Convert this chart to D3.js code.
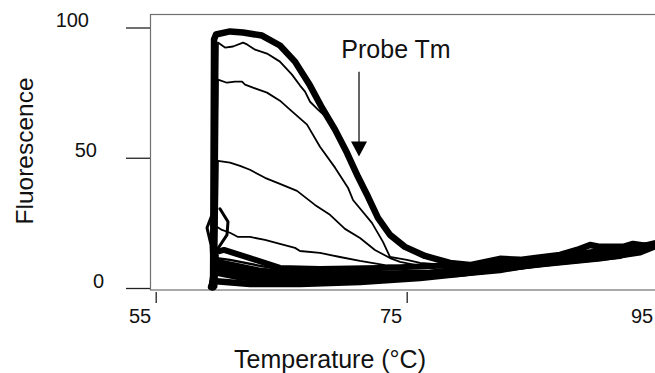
<!DOCTYPE html>
<html>
<head>
<meta charset="utf-8">
<script src="https://cdn.jsdelivr.net/npm/d3@7.9.0/dist/d3.min.js"></script>
<style>
  body { margin: 0; background: #fff; }
  svg { display: block; font-family: "Liberation Sans", Arial, sans-serif; }
</style>
</head>
<body>
<svg width="655" height="373"></svg>
<script>
// axis ticks
const xTicks = [55, 75, 95];
const yTicks = [0, 50, 100];

// melting curves [temperature, fluorescence]
const curveA = [[59.57,0.8],[59.65,95.4],[59.80,97.3],[60.92,98.5],[61.96,98.1],[63.47,96.9],[64.90,93.1],[66.10,86.9],[67.30,77.7],[68.25,69.2],[69.29,60.8],[70.24,51.9],[71.12,42.7],[71.92,35.0],[72.71,26.9],[73.67,20.4],[74.86,15.8],[76.46,12.3],[78.45,9.6],[80.04,8.8],[82.43,11.2],[84.03,10.8],[87.22,12.7],[88.57,14.6],[89.61,16.5],[90.41,15.8],[92.24,15.8],[93.04,16.9],[93.99,16.2],[94.95,16.5]];
const curveB = [[59.73,0.4],[59.96,94.2],[60.52,92.3],[61.16,92.7],[61.96,94.2],[62.28,93.5],[62.92,91.5],[63.87,90.0],[64.90,86.9],[65.86,81.9],[66.50,77.7],[66.90,75.4],[67.30,71.5],[67.93,68.5],[68.49,66.0],[69.29,60.3],[70.24,51.4],[71.12,42.2],[71.92,34.5],[72.71,26.4],[73.67,20.0],[74.86,15.5],[76.46,12.0],[78.45,9.4]];
const curveC = [[59.80,0.4],[59.96,80.0],[60.68,78.8],[61.32,79.2],[61.88,79.2],[62.12,78.1],[62.75,76.9],[63.87,75.0],[64.90,71.9],[65.70,68.5],[67.06,62.7],[68.09,54.2],[69.29,46.2],[70.32,38.5],[70.72,33.8],[72.23,25.0],[73.11,17.7],[73.67,11.9],[74.23,11.5],[75.02,10.8],[76.06,9.6],[78.45,8.8]];
const curveD = [[59.80,0.4],[59.96,48.8],[60.92,48.1],[61.72,46.9],[62.51,45.4],[63.71,42.3],[64.90,40.0],[66.26,37.3],[67.69,31.9],[68.89,28.1],[70.08,22.7],[71.28,19.2],[72.47,14.6],[73.67,11.5],[74.47,10.0],[76.06,8.5],[78.45,8.1]];
const curveE = [[59.65,0.4],[59.65,24.2],[60.28,22.3],[60.92,21.2],[61.56,19.6],[62.51,19.6],[63.71,18.5],[64.90,16.9],[66.10,15.4],[66.50,14.2],[68.09,13.5],[69.68,11.9],[71.28,10.4],[73.27,8.8],[76.06,8.1]];
const curveF = [[59.65,0.8],[59.80,13.8],[60.44,14.6],[62.51,11.5],[64.90,7.7],[68.09,7.3],[72.87,7.7],[77.65,8.5],[80.84,8.5],[85.62,11.2],[90.41,14.2],[94.95,16.9]];
const curveG = [[59.57,0.4],[59.73,10.0],[61.32,8.5],[63.31,6.5],[64.90,5.8],[68.89,5.4],[72.87,5.4],[76.85,5.8],[78.45,6.5],[82.43,8.5],[87.22,11.5],[92.00,13.5],[93.59,15.0],[94.95,16.9]];
const curveM = [[59.49,0.4],[59.65,7.7],[61.72,6.2],[64.90,4.2],[68.89,3.8],[72.87,4.2],[76.06,4.6],[79.25,5.4],[82.43,7.3],[87.22,10.0],[92.00,12.3],[94.95,16.5]];
const curveH = [[59.49,0.4],[59.65,6.2],[61.72,4.2],[64.90,3.1],[68.89,2.7],[72.87,3.5],[76.85,5.0],[80.84,6.5],[85.62,9.2],[90.41,11.5],[93.59,13.8],[94.95,16.5]];
const curveI = [[59.41,0.4],[59.57,2.7],[62.51,1.5],[66.50,1.5],[71.28,2.3],[76.06,3.8],[80.04,5.8],[82.43,6.9],[87.22,10.8],[92.00,12.7],[93.59,15.8],[94.95,17.3]];
const curveJ = [[59.57,0.8],[59.73,11.5],[60.92,10.8],[63.31,8.5],[65.70,6.5],[68.89,5.8]];
const curveK = [[59.57,0.4],[59.41,16.5],[59.09,23.1],[59.49,28.1],[59.80,31.9]];
const curveL = [[59.80,0.4],[59.88,14.6],[60.68,20.4],[60.76,25.4],[60.12,30.4]];

// annotation
const probeLabel = "Probe Tm";
const probeTm = 71.2;
const arrowFrom = 83;
const arrowTo = 50.5;

const svg = d3.select("svg");

const x = d3.scaleLinear().domain([55, 95]).range([155.7, 657.7]);
const y = d3.scaleLinear().domain([0, 100]).range([288, 27.5]);

// frame
svg.append("rect")
    .attr("x", 150.5).attr("y", 14.5)
    .attr("width", 520).attr("height", 275.5)
    .attr("fill", "none")
    .attr("stroke", "#707070")
    .attr("stroke-width", 1.2);

const line = d3.line().x(d => x(d[0])).y(d => y(d[1]));

const curves = [
    {data: curveI, w: 6.5},
    {data: curveH, w: 7},
    {data: curveM, w: 6},
    {data: curveG, w: 7},
    {data: curveJ, w: 2.5},
    {data: curveF, w: 6},
    {data: curveK, w: 3},
    {data: curveL, w: 3},
    {data: curveE, w: 1.8},
    {data: curveD, w: 1.8},
    {data: curveC, w: 1.8},
    {data: curveB, w: 1.8},
    {data: curveA, w: 6.5}
];

svg.append("g").selectAll("path")
    .data(curves)
    .join("path")
    .attr("d", d => line(d.data))
    .attr("fill", "none")
    .attr("stroke", "#000")
    .attr("stroke-width", d => d.w)
    .attr("stroke-linejoin", "round")
    .attr("stroke-linecap", "round");

// x axis (detached below the frame)
const xAxis = svg.append("g")
    .attr("transform", "translate(0,292)")
    .call(d3.axisBottom(x).tickValues(xTicks).tickSize(11).tickFormat(d3.format("d")));
xAxis.select(".domain").remove();
xAxis.selectAll(".tick line").attr("stroke", "#222").attr("stroke-width", 1.3);
xAxis.selectAll(".tick text")
    .attr("font-family", "Liberation Sans, Arial, sans-serif")
    .attr("font-size", 20)
    .attr("fill", "#111")
    .attr("text-anchor", "end")
    .attr("x", -5)
    .attr("y", 31)
    .attr("dy", 0);

// y axis ticks point outward from the frame
const yLabelX = {0: -46, 50: -53, 100: -61};
const yAxis = svg.append("g")
    .attr("transform", "translate(150,0)")
    .call(d3.axisLeft(y).tickValues(yTicks).tickSize(24));
yAxis.select(".domain").remove();
yAxis.selectAll(".tick line").attr("stroke", "#222").attr("stroke-width", 1.3);
yAxis.selectAll(".tick text")
    .attr("font-family", "Liberation Sans, Arial, sans-serif")
    .attr("font-size", 20)
    .attr("fill", "#111")
    .attr("text-anchor", "end")
    .attr("x", d => yLabelX[d])
    .attr("y", -1)
    .attr("dy", 0);

// titles
svg.append("text")
    .attr("x", 330).attr("y", 368)
    .attr("text-anchor", "middle")
    .attr("font-size", 25)
    .attr("fill", "#111")
    .text("Temperature (°C)");

svg.append("text")
    .attr("transform", "translate(33,151) rotate(-90)")
    .attr("text-anchor", "middle")
    .attr("font-size", 24.5)
    .attr("fill", "#111")
    .text("Fluorescence");

// probe Tm arrow
const ax = x(probeTm);
svg.append("line")
    .attr("x1", ax).attr("x2", ax)
    .attr("y1", y(arrowFrom)).attr("y2", y(arrowTo) - 12)
    .attr("stroke", "#111").attr("stroke-width", 1.3);
svg.append("path")
    .attr("d", `M${ax - 8},${y(arrowTo) - 15}L${ax + 8},${y(arrowTo) - 15}L${ax},${y(arrowTo)}Z`)
    .attr("fill", "#000");
svg.append("text")
    .attr("x", ax + 37).attr("y", 58)
    .attr("text-anchor", "middle")
    .attr("font-size", 25)
    .attr("fill", "#111")
    .text(probeLabel);
</script>
</body>
</html>
